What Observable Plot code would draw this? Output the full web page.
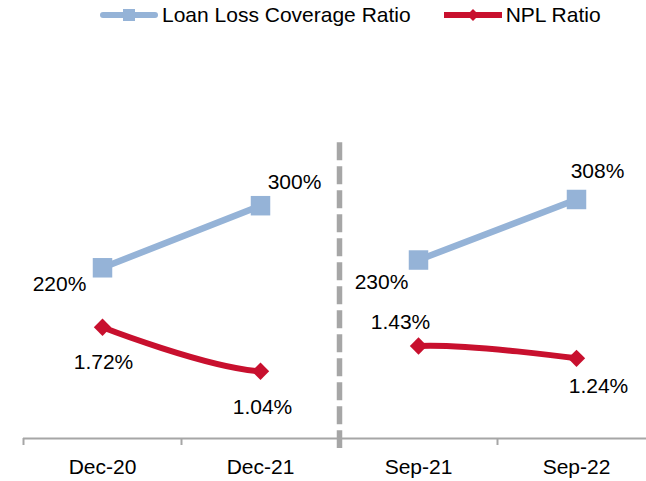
<!DOCTYPE html>
<html>
<head>
<meta charset="utf-8">
<script src="https://cdn.jsdelivr.net/npm/d3@7"></script>
<script src="https://cdn.jsdelivr.net/npm/@observablehq/plot@0.6"></script>
<style>
  body { margin: 0; background: #fff; font-family: "Liberation Sans", Arial, sans-serif; }
  #legend { height: 30px; display: flex; align-items: center; padding-left: 100px; gap: 33px; font-size: 21px; color: #000; }
  .item { display: flex; align-items: center; gap: 4px; }
  .item svg { display: block; }
</style>
</head>
<body>
<div id="legend"></div>
<div id="chart"></div>
<script>
// Reporting periods and the two ratios
const categories = ["Dec-20", "Dec-21", "Sep-21", "Sep-22"];
const periodGroup = ["Dec", "Dec", "Sep", "Sep"];
const coverage = [220, 300, 230, 308];      // Loan Loss Coverage Ratio, %
const npl = [1.72, 1.04, 1.43, 1.24];        // NPL Ratio, %
const coverageLabels = ["220%", "300%", "230%", "308%"];
const nplLabels = ["1.72%", "1.04%", "1.43%", "1.24%"];

// Label placement relative to each marker (px)
const coverageLabelOffsets = [[-43, 16], [34, -23], [-37, 22], [21, -28]];
const nplLabelOffsets = [[1, 35], [2, 36], [-18, -24], [22, 28]];

const BLUE = "#95B3D7";
const RED = "#C8102E";
const GREY = "#A6A6A6";
const FONT = 21;

// Left axis runs 0–500%, the hidden right axis 0–6%
const coverageMax = 500;
const nplMax = 6;
const nplToCoverage = coverageMax / nplMax;

const rows = categories.map((c, i) => ({
  category: c,
  pos: i + 0.5,
  group: periodGroup[i],
  coverage: coverage[i],
  npl: npl[i],
  nplScaled: npl[i] * nplToCoverage,
  coverageLabel: coverageLabels[i],
  nplLabel: nplLabels[i]
}));

// Smoothed (cardinal) line that leaves out selected segments
function gappedCardinal(skip) {
  return (context) => {
    let n = 0;
    const proxy = {
      moveTo(x, y) { n = 0; context.moveTo(x, y); },
      lineTo(x, y) { skip.has(n++) ? context.moveTo(x, y) : context.lineTo(x, y); },
      bezierCurveTo(a, b, c, d, x, y) { skip.has(n++) ? context.moveTo(x, y) : context.bezierCurveTo(a, b, c, d, x, y); },
      closePath() { context.closePath(); }
    };
    return d3.curveCardinal(proxy);
  };
}

const coverageText = rows.map((d, i) => Plot.text([d], {
  x: "pos", y: "coverage", text: "coverageLabel",
  dx: coverageLabelOffsets[i][0], dy: coverageLabelOffsets[i][1],
  fontSize: FONT, fill: "#000"
}));
const nplText = rows.map((d, i) => Plot.text([d], {
  x: "pos", y: "nplScaled", text: "nplLabel",
  dx: nplLabelOffsets[i][0], dy: nplLabelOffsets[i][1],
  fontSize: FONT, fill: "#000"
}));

// Divider between the two comparison periods, drawn top-down
const divider = [{ pos: 2, top: 381, bottom: -13 }];

const chart = Plot.plot({
  width: 646,
  height: 451,
  marginTop: 20,
  marginBottom: 43,
  marginLeft: 23,
  marginRight: 0,
  style: { fontFamily: "Liberation Sans, Arial, sans-serif", fontSize: FONT + "px", color: "#000", background: "#fff" },
  x: { domain: [0, 4], range: [23, 655], axis: null },
  y: { domain: [0, coverageMax], axis: null },
  marks: [
    // category axis
    Plot.ruleY([0], { stroke: GREY, strokeWidth: 2 }),
    Plot.axisX({ ticks: [0, 1, 3, 4], tickSize: 7, tickFormat: () => "", stroke: GREY, strokeWidth: 2, label: null }),
    Plot.axisX({ ticks: rows.map(d => d.pos), tickSize: 0, tickPadding: 21, tickFormat: v => categories[Math.floor(v)], fill: "#000", label: null }),
    Plot.ruleX(divider, { x: "pos", y1: "top", y2: "bottom", stroke: GREY, strokeWidth: 5.5, strokeDasharray: "18,6" }),
    // Loan Loss Coverage Ratio
    Plot.line(rows, { x: "pos", y: "coverage", z: "group", stroke: BLUE, strokeWidth: 6.5 }),
    Plot.dot(rows, { x: "pos", y: "coverage", symbol: "square", r: 11, fill: BLUE, stroke: "none" }),
    // NPL Ratio
    Plot.line(rows, { x: "pos", y: "nplScaled", curve: gappedCardinal(new Set([1])), stroke: RED, strokeWidth: 6 }),
    Plot.dot(rows, { x: "pos", y: "nplScaled", symbol: "diamond2", r: 7.8, fill: RED, stroke: "none" }),
    ...coverageText,
    ...nplText
  ]
});
document.getElementById("chart").appendChild(chart);

// Legend
const legend = d3.select("#legend");
const blueItem = legend.append("div").attr("class", "item");
const bsvg = blueItem.append("svg").attr("width", 58).attr("height", 14);
bsvg.append("line").attr("x1", 3).attr("x2", 55).attr("y1", 7).attr("y2", 7)
  .attr("stroke", BLUE).attr("stroke-width", 6).attr("stroke-linecap", "round");
bsvg.append("rect").attr("x", 23).attr("y", 1).attr("width", 12).attr("height", 12).attr("fill", BLUE);
blueItem.append("span").text("Loan Loss Coverage Ratio");

const redItem = legend.append("div").attr("class", "item");
const rsvg = redItem.append("svg").attr("width", 58).attr("height", 14);
rsvg.append("line").attr("x1", 0).attr("x2", 58).attr("y1", 7).attr("y2", 7)
  .attr("stroke", RED).attr("stroke-width", 6);
rsvg.append("path").attr("d", "M29,1L35,7L29,13L23,7Z").attr("fill", RED);
redItem.append("span").text("NPL Ratio");
</script>
</body>
</html>
